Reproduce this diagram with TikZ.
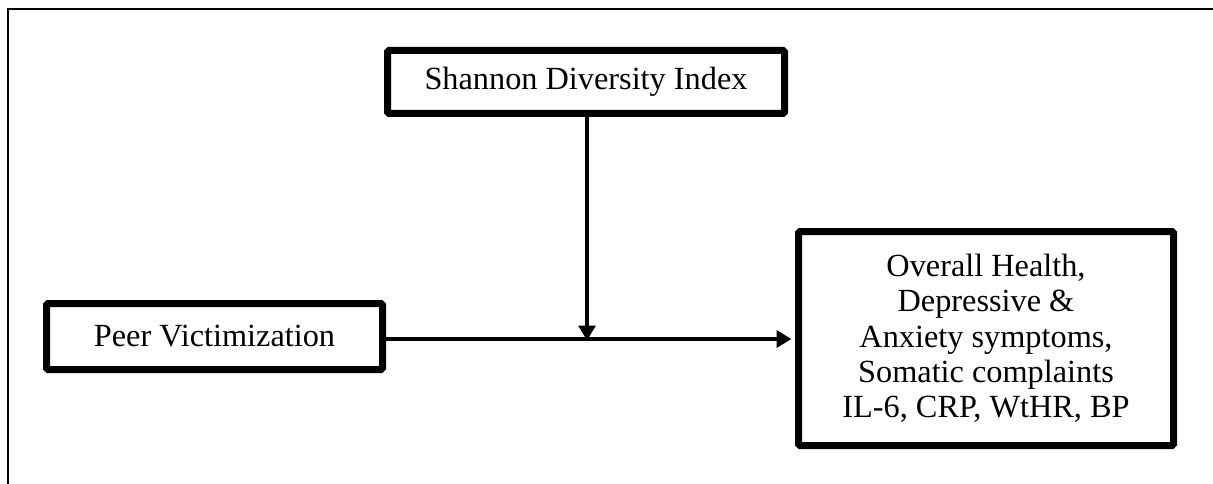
\documentclass[tikz,border=0pt]{standalone}
\usepackage{fontspec}
\setmainfont{Liberation Serif}
\usetikzlibrary{arrows.meta}
\begin{document}
\begin{tikzpicture}[x=1pt,y=-1pt,
  box/.style={draw=black, line width=7pt, rounded corners=1.5pt, fill=white, inner sep=0pt,
    font=\fontsize{32.3}{35.3}\selectfont, align=center},
  conn/.style={draw=black, line width=3.8pt, -{Triangle[length=15pt,width=17pt]}}]
\useasboundingbox (0,0) rectangle (1213,484);
\fill[white] (0,0) rectangle (1213,484);
% outer frame (top and left visible)
\draw[line width=2pt] (8,484) -- (8,9) -- (1213,9);
\node[box, minimum width=397pt, minimum height=63pt] (sh) at (586,82) {Shannon Diversity Index};
\node[box, minimum width=336pt, minimum height=66pt] (pv) at (214.5,336.5) {Peer Victimization};
\node[box, minimum width=375pt, minimum height=214pt] (out) at (986,338.5)
  {Overall Health,\\Depressive \&\\Anxiety symptoms,\\Somatic complaints\\IL-6, CRP, WtHR, BP};
\coordinate (m) at (587,339);
\draw[conn, shorten >=3.5pt] (pv.east |- m) -- (out.west |- m);
\draw[conn, line width=3.2pt] (m |- sh.south) -- ([yshift=-1.5pt]m);
\end{tikzpicture}
\end{document}
